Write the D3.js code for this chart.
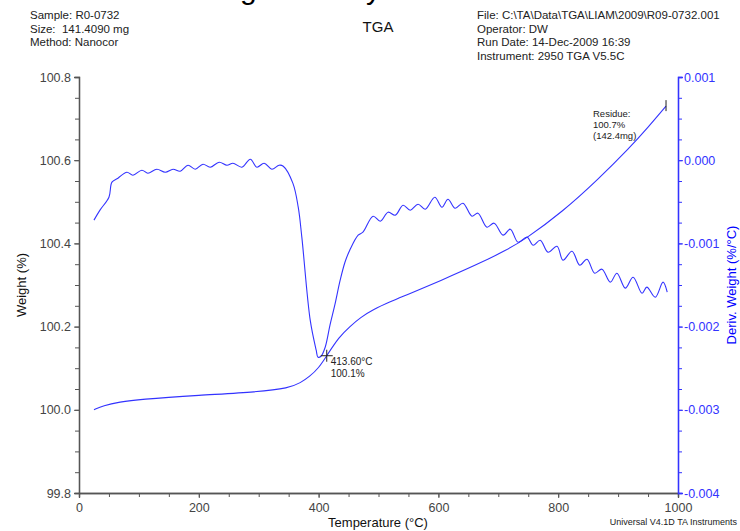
<!DOCTYPE html>
<html>
<head>
<meta charset="utf-8">
<script src="https://cdn.jsdelivr.net/npm/d3@7"></script>
<style>
  body { margin: 0; background: #fff; }
  svg text { font-family: "Liberation Sans", Arial, sans-serif; }
</style>
</head>
<body>
<div id="chart"></div>
<script>
// weight curve (left axis), temperature in °C
const weight_temp = [25, 40, 68, 100, 200, 300, 350, 370, 385, 400, 413.6, 434, 452, 470, 491, 520, 547, 603, 666, 714, 745, 808, 866, 920, 950, 980];
const weight_pct = [100.0, 100.01, 100.019, 100.025, 100.035, 100.043, 100.052, 100.065, 100.08, 100.10, 100.13, 100.175, 100.2, 100.222, 100.241, 100.26, 100.276, 100.31, 100.35, 100.384, 100.41, 100.477, 100.553, 100.631, 100.679, 100.73];

// derivative curve (right axis), %/°C
const deriv_temp = [25, 35, 50, 55, 65, 80, 90, 105, 115, 130, 144, 157, 169, 182, 194, 207, 219, 234, 247, 257, 272, 286, 297, 309, 322, 334, 341, 357, 366, 372, 386, 396, 399, 404, 411, 419, 427, 436, 444, 452, 466, 474, 491, 503, 516, 528, 541, 553, 566, 578, 594, 606, 616, 628, 641, 656, 666, 681, 693, 708, 720, 733, 748, 758, 770, 783, 798, 808, 823, 836, 848, 861, 873, 887, 898, 912, 925, 940, 948, 962, 975, 982];
const deriv_val = [-0.00072, -0.0006, -0.000445, -0.000264, -0.000216, -0.000144, -0.00018, -0.00012, -0.000156, -0.000108, -0.000144, -0.000108, -0.000132, -0.00006, -0.000108, -0.000048, -0.000084, -0.000024, -0.00006, -0.000036, -0.000084, 0.000012, -0.000084, -0.000036, -0.000108, -0.00006, -0.000072, -0.000276, -0.000565, -0.000925, -0.001923, -0.002284, -0.002368, -0.002356, -0.002248, -0.001983, -0.001743, -0.001442, -0.001226, -0.001082, -0.000901, -0.000865, -0.000673, -0.000733, -0.000625, -0.000661, -0.000541, -0.000601, -0.000529, -0.000589, -0.000445, -0.000565, -0.000469, -0.000577, -0.000517, -0.000673, -0.000637, -0.000805, -0.000757, -0.000901, -0.000829, -0.000986, -0.000925, -0.001022, -0.000962, -0.001106, -0.001034, -0.001202, -0.001094, -0.001262, -0.00119, -0.001358, -0.00131, -0.001466, -0.001358, -0.001538, -0.001406, -0.001599, -0.001526, -0.001647, -0.001466, -0.001587];

const x_ticks = [0, 200, 400, 600, 800, 1000];
const weight_ticks = [99.8, 100.0, 100.2, 100.4, 100.6, 100.8];
const deriv_ticks = [-0.004, -0.003, -0.002, -0.001, 0.000, 0.001];

const header_left = ["Sample: R0-0732", "Size:  141.4090 mg", "Method: Nanocor"];
const header_right = ["File: C:\\TA\\Data\\TGA\\LIAM\\2009\\R09-0732.001", "Operator: DW", "Run Date: 14-Dec-2009 16:39", "Instrument: 2950 TGA V5.5C"];

const peak_label = ["413.60°C", "100.1%"];
const residue_label = ["Residue:", "100.7%", "(142.4mg)"];

const width = 740, height = 531;
const margin = {left: 79, right: 62, top: 77, bottom: 38};
const blue = "#3333ff";
const grey = "#555";

const svg = d3.select("#chart").append("svg")
    .attr("width", width)
    .attr("height", height);

const x = d3.scaleLinear().domain([0, 1000]).range([margin.left, width - margin.right]);
const yW = d3.scaleLinear().domain([99.8, 100.8]).range([height - margin.bottom, margin.top]);
const yD = d3.scaleLinear().domain([-0.004, 0.001]).range([height - margin.bottom, margin.top]);

// clipped big title (only descenders visible)
svg.append("text").attr("x", 240).attr("y", -1).attr("font-size", 30).attr("fill", "#000").text("g");
svg.append("text").attr("x", 366).attr("y", -1).attr("font-size", 30).attr("fill", "#000").text("y");

// header text
svg.selectAll(".hl").data(header_left).enter().append("text")
    .attr("x", 30).attr("y", (d, i) => 19 + i * 13.5)
    .attr("font-size", 11.5).attr("fill", "#222")
    .attr("xml:space", "preserve")
    .text(d => d);
svg.selectAll(".hr").data(header_right).enter().append("text")
    .attr("x", 477).attr("y", (d, i) => 19 + i * 13.5)
    .attr("font-size", 11.5).attr("fill", "#222")
    .text(d => d);
svg.append("text").attr("x", 378).attr("y", 32).attr("text-anchor", "middle")
    .attr("font-size", 15).attr("fill", "#111").text("TGA");

// axes
const bottom = height - margin.bottom;

const xMinor = svg.append("g").attr("transform", `translate(0,${bottom})`)
    .call(d3.axisBottom(x).tickValues(d3.range(0, 1001, 50)).tickSize(4).tickFormat(""));
const xAxis = svg.append("g").attr("transform", `translate(0,${bottom})`)
    .call(d3.axisBottom(x).tickValues(x_ticks).tickSize(5).tickFormat(d3.format("d")));

const lMinor = svg.append("g").attr("transform", `translate(${margin.left},0)`)
    .call(d3.axisLeft(yW).tickValues(d3.range(0, 21).map(i => 99.8 + i * 0.05)).tickSize(4).tickFormat(""));
const lAxis = svg.append("g").attr("transform", `translate(${margin.left},0)`)
    .call(d3.axisLeft(yW).tickValues(weight_ticks).tickSize(5).tickFormat(d3.format(".1f")));

const fmtD = d => d3.format(".3f")(d).replace("−", "-");
const rMinor = svg.append("g").attr("transform", `translate(${width - margin.right},0)`)
    .call(d3.axisRight(yD).tickValues(d3.range(0, 21).map(i => -0.004 + i * 0.00025)).tickSize(4).tickFormat(""));
const rAxis = svg.append("g").attr("transform", `translate(${width - margin.right},0)`)
    .call(d3.axisRight(yD).tickValues(deriv_ticks).tickSize(5).tickFormat(fmtD));

[xMinor, xAxis, lMinor, lAxis].forEach(g => {
    g.selectAll("path").attr("stroke", grey).attr("stroke-width", 1.3);
    g.selectAll("line").attr("stroke", grey);
    g.selectAll("text").attr("fill", "#444").attr("font-size", 12.5)
        .attr("font-family", "'Liberation Sans', Arial, sans-serif");
});
[rMinor, rAxis].forEach(g => {
    g.selectAll("path").attr("stroke", blue).attr("stroke-width", 1.3);
    g.selectAll("line").attr("stroke", blue);
    g.selectAll("text").attr("fill", blue).attr("font-size", 12.5)
        .attr("font-family", "'Liberation Sans', Arial, sans-serif");
});
xAxis.selectAll("text").attr("dy", "0.9em");
lAxis.selectAll("text").attr("x", -8);
rAxis.selectAll("text").attr("x", 6);

// axis titles
svg.append("text").attr("x", 378).attr("y", 527).attr("text-anchor", "middle")
    .attr("font-size", 13).attr("fill", "#111").text("Temperature (°C)");
svg.append("text").attr("transform", "translate(26,285) rotate(-90)").attr("text-anchor", "middle")
    .attr("font-size", 13).attr("fill", "#111").text("Weight (%)");
svg.append("text").attr("transform", "translate(736,285) rotate(-90)").attr("text-anchor", "middle")
    .attr("font-size", 13).attr("fill", "#0000ff").text("Deriv. Weight (%/°C)");
svg.append("text").attr("x", 737).attr("y", 525).attr("text-anchor", "end")
    .attr("font-size", 9).attr("fill", "#222").text("Universal V4.1D TA Instruments");

// curves
const weightData = weight_temp.map((t, i) => ({t: t, v: weight_pct[i]}));
const derivData = deriv_temp.map((t, i) => ({t: t, v: deriv_val[i]}));

svg.append("path").datum(weightData)
    .attr("fill", "none").attr("stroke", blue).attr("stroke-width", 1.1)
    .attr("d", d3.line().x(d => x(d.t)).y(d => yW(d.v)).curve(d3.curveBasis));
svg.append("path").datum(derivData)
    .attr("fill", "none").attr("stroke", blue).attr("stroke-width", 1.1)
    .attr("d", d3.line().x(d => x(d.t)).y(d => yD(d.v)).curve(d3.curveCatmullRom));

// peak annotation
const px = x(413.6), py = yW(100.13);
svg.append("path").attr("d", `M${px - 6},${py}H${px + 6}M${px},${py - 6}V${py + 6}`)
    .attr("stroke", "#222").attr("stroke-width", 1);
svg.selectAll(".pk").data(peak_label).enter().append("text")
    .attr("x", px + 4).attr("y", (d, i) => py + 9 + i * 12)
    .attr("font-size", 10).attr("fill", "#222").text(d => d);

// residue annotation
const rx = x(980), ry = yW(100.73);
svg.append("line").attr("x1", rx).attr("x2", rx).attr("y1", ry - 6).attr("y2", ry + 5)
    .attr("stroke", "#222");
svg.selectAll(".rs").data(residue_label).enter().append("text")
    .attr("x", 593).attr("y", (d, i) => 117 + i * 11)
    .attr("font-size", 9.5).attr("fill", "#222").text(d => d);
</script>
</body>
</html>
